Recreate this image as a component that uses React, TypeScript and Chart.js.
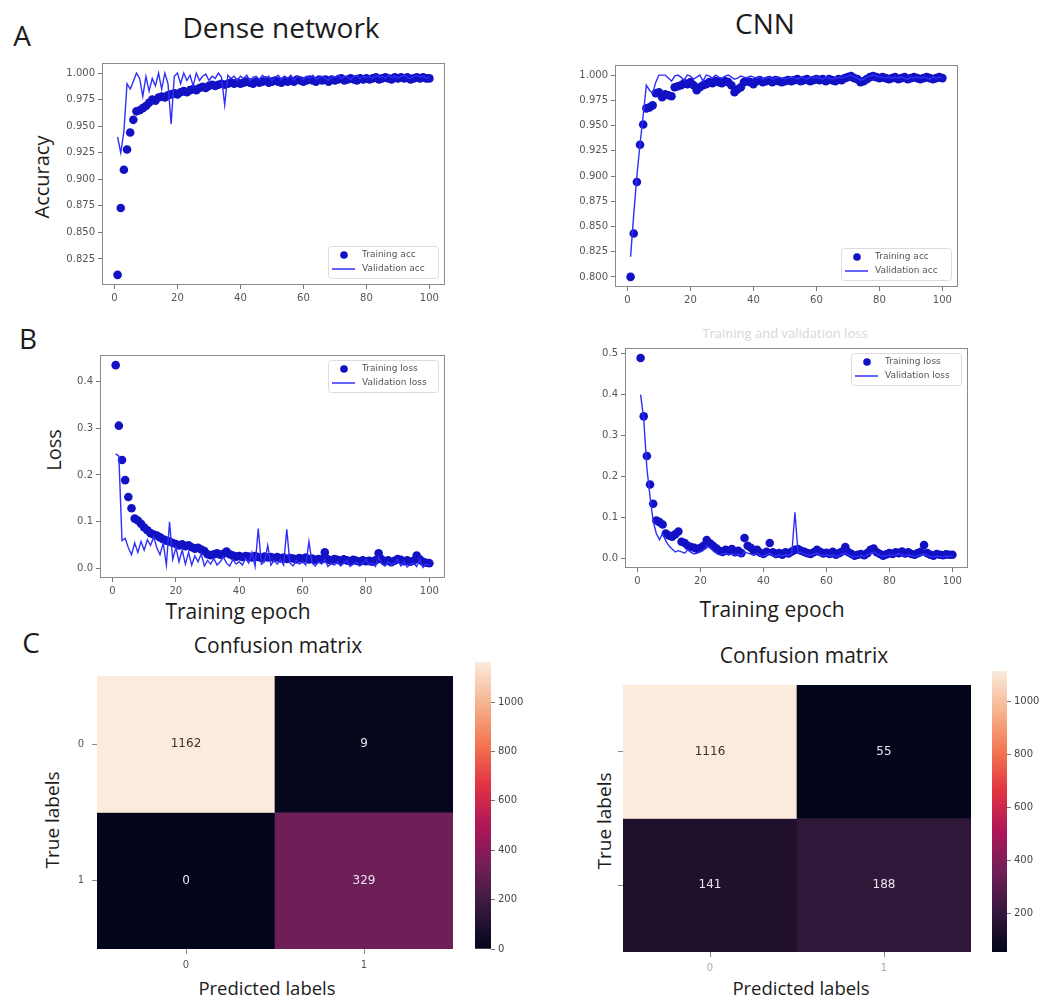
import React, { useEffect, useRef } from 'react';
import { Chart, registerables } from 'chart.js';

Chart.register(...registerables);
Chart.defaults.font.family = '"DejaVu Sans", sans-serif';

// ---------------- data ----------------
const EPOCH_TICKS = [0, 20, 40, 60, 80, 100];
const ACC_TICKS_DENSE = [0.825, 0.85, 0.875, 0.9, 0.925, 0.95, 0.975, 1.0];
const ACC_TICKS_CNN = [0.8, 0.825, 0.85, 0.875, 0.9, 0.925, 0.95, 0.975, 1.0];
const LOSS_TICKS_DENSE = [0, 0.1, 0.2, 0.3, 0.4];
const LOSS_TICKS_CNN = [0, 0.1, 0.2, 0.3, 0.4, 0.5];

const DENSE_TRAIN_ACC = [
  0.810, 0.873, 0.909, 0.928, 0.944, 0.956, 0.964, 0.965, 0.967, 0.969,
  0.972, 0.975, 0.974, 0.977, 0.978, 0.977, 0.979, 0.980, 0.981, 0.980,
  0.982, 0.983, 0.982, 0.984, 0.985, 0.984, 0.986, 0.987, 0.986, 0.988,
  0.989, 0.988, 0.989, 0.990, 0.989, 0.990, 0.991, 0.990, 0.991, 0.990,
  0.991, 0.992, 0.991, 0.990, 0.992, 0.991, 0.992, 0.993, 0.991, 0.992,
  0.993, 0.992, 0.991, 0.993, 0.992, 0.993, 0.992, 0.994, 0.993, 0.992,
  0.993, 0.994, 0.993, 0.992, 0.994, 0.993, 0.994, 0.992, 0.994, 0.993,
  0.994, 0.995, 0.993, 0.994, 0.995, 0.994, 0.993, 0.995, 0.994, 0.995,
  0.994, 0.995, 0.996, 0.994, 0.995, 0.996, 0.995, 0.994, 0.996, 0.995,
  0.996, 0.995, 0.996, 0.994, 0.995, 0.996, 0.995, 0.996, 0.995, 0.995,
];
const DENSE_VAL_ACC = [
  0.940, 0.925, 0.945, 0.990, 0.985, 0.992, 1.000, 0.995, 0.978, 0.997,
  0.983, 0.995, 0.988, 1.000, 0.985, 1.000, 0.990, 0.952, 0.997, 1.000,
  0.990, 1.000, 0.993, 0.998, 0.988, 1.000, 0.993, 0.997, 0.999, 0.993,
  0.997, 0.995, 1.000, 0.996, 0.970, 0.998, 0.995, 0.997, 0.993, 0.997,
  0.995, 0.998, 0.993, 0.996, 0.997, 0.994, 0.998, 0.995, 0.997, 0.993,
  0.996, 0.998, 0.994, 0.997, 0.995, 0.998, 0.993, 0.997, 0.996, 0.994,
  0.997, 0.995, 0.998, 0.994, 0.996, 0.997, 0.995, 0.993, 0.997, 0.996,
  0.998, 0.995, 0.997, 0.996, 0.994, 0.997, 0.998, 0.995, 0.997, 0.996,
  0.997, 0.995, 0.998, 0.996, 0.997, 0.995, 0.998, 0.996, 0.997, 0.995,
  0.997, 0.998, 0.996, 0.995, 0.997, 0.998, 0.996, 0.997, 0.995, 0.996,
];
const CNN_TRAIN_ACC = [
  0.800, 0.843, 0.894, 0.931, 0.951, 0.967, 0.968, 0.970, 0.982, 0.983,
  0.978, 0.981, 0.980, 0.979, 0.988, 0.989, 0.990, 0.992, 0.991, 0.993,
  0.990, 0.985, 0.988, 0.990, 0.991, 0.993, 0.992, 0.994, 0.993, 0.992,
  0.994, 0.993, 0.990, 0.983, 0.986, 0.988, 0.993, 0.994, 0.993, 0.991,
  0.994, 0.995, 0.993, 0.994, 0.995, 0.993, 0.995, 0.994, 0.993, 0.994,
  0.995, 0.994, 0.995, 0.996, 0.994, 0.995, 0.996, 0.994, 0.995, 0.996,
  0.995, 0.996, 0.994, 0.996, 0.995, 0.994, 0.996, 0.995, 0.997, 0.998,
  0.999, 0.997, 0.996, 0.993, 0.994, 0.996, 0.998, 0.999, 0.998, 0.997,
  0.998, 0.997, 0.996, 0.997, 0.998, 0.996, 0.997, 0.998, 0.996, 0.997,
  0.998, 0.997, 0.996, 0.997, 0.998, 0.997, 0.996, 0.997, 0.998, 0.997,
];
const CNN_VAL_ACC = [
  0.820, 0.862, 0.900, 0.932, 0.960, 0.990, 0.985, 0.982, 0.993, 1.000,
  1.000, 1.000, 0.997, 0.994, 0.999, 1.000, 0.998, 0.995, 1.000, 0.999,
  0.996, 0.998, 1.000, 0.994, 1.000, 0.999, 0.997, 1.000, 0.998, 0.997,
  0.999, 1.000, 0.998, 0.996, 0.997, 0.999, 0.998, 0.997, 0.999, 0.998,
  0.997, 0.998, 0.996, 0.997, 0.998, 0.996, 0.997, 0.998, 0.997, 0.996,
  0.997, 0.998, 0.997, 0.996, 0.998, 0.997, 0.996, 0.998, 0.997, 0.998,
  0.997, 0.996, 0.998, 0.997, 0.996, 0.997, 0.998, 0.997, 0.998, 0.999,
  1.000, 0.998, 0.997, 0.995, 0.996, 0.998, 0.999, 1.000, 0.999, 0.998,
  0.998, 0.997, 0.998, 0.997, 0.998, 0.997, 0.998, 0.997, 0.996, 0.998,
  0.997, 0.998, 0.997, 0.998, 0.997, 0.996, 0.998, 0.997, 0.998, 0.997,
];
const DENSE_TRAIN_LOSS = [
  0.434, 0.305, 0.232, 0.189, 0.153, 0.129, 0.107, 0.103, 0.096, 0.088,
  0.082, 0.076, 0.073, 0.071, 0.067, 0.063, 0.060, 0.058, 0.055, 0.053,
  0.050, 0.052, 0.048, 0.050, 0.046, 0.043, 0.045, 0.041, 0.038, 0.031,
  0.029, 0.031, 0.033, 0.030, 0.032, 0.037, 0.031, 0.028, 0.026, 0.027,
  0.025, 0.027, 0.026, 0.024, 0.027, 0.025, 0.023, 0.026, 0.024, 0.025,
  0.023, 0.025, 0.022, 0.024, 0.021, 0.023, 0.022, 0.020, 0.023, 0.021,
  0.024, 0.020, 0.022, 0.019, 0.021, 0.020, 0.035, 0.020, 0.018, 0.021,
  0.019, 0.017, 0.020, 0.018, 0.016, 0.019, 0.017, 0.015, 0.018, 0.016,
  0.017, 0.015, 0.018, 0.033, 0.020, 0.016, 0.018, 0.014, 0.017, 0.021,
  0.019, 0.016, 0.018, 0.015, 0.017, 0.028, 0.020, 0.015, 0.013, 0.012,
];
const DENSE_VAL_LOSS = [
  0.245, 0.240, 0.060, 0.065, 0.045, 0.030, 0.055, 0.035, 0.058, 0.040,
  0.062, 0.050, 0.068, 0.045, 0.030, 0.055, 0.008, 0.100, 0.020, 0.045,
  0.015, 0.040, 0.010, 0.035, 0.008, 0.028, 0.015, 0.032, 0.006, 0.018,
  0.010, 0.022, 0.008, 0.015, 0.025, 0.012, 0.006, 0.020, 0.010, 0.015,
  0.008, 0.022, 0.012, 0.035, 0.005, 0.086, 0.010, 0.015, 0.050, 0.008,
  0.018, 0.010, 0.020, 0.008, 0.084, 0.012, 0.006, 0.018, 0.010, 0.015,
  0.008, 0.058, 0.012, 0.006, 0.015, 0.010, 0.020, 0.005, 0.012, 0.008,
  0.015, 0.006, 0.012, 0.018, 0.005, 0.010, 0.014, 0.006, 0.012, 0.020,
  0.008, 0.012, 0.005, 0.025, 0.010, 0.006, 0.015, 0.008, 0.012, 0.020,
  0.006, 0.015, 0.004, 0.010, 0.012, 0.005, 0.020, 0.003, 0.010, 0.008,
];
const CNN_TRAIN_LOSS = [
  0.490, 0.347, 0.250, 0.180, 0.133, 0.092, 0.088, 0.082, 0.060, 0.055,
  0.052, 0.058, 0.065, 0.040, 0.037, 0.030, 0.027, 0.025, 0.022, 0.025,
  0.030, 0.044, 0.036, 0.030, 0.024, 0.018, 0.015, 0.020, 0.017, 0.022,
  0.014, 0.018, 0.012, 0.049, 0.030, 0.025, 0.016, 0.020, 0.013, 0.010,
  0.015, 0.037, 0.014, 0.010, 0.012, 0.008, 0.014, 0.011, 0.016, 0.020,
  0.022, 0.018, 0.015, 0.012, 0.010, 0.014, 0.020, 0.015, 0.011, 0.013,
  0.010, 0.015, 0.008, 0.012, 0.016, 0.027, 0.014, 0.010, 0.006, 0.008,
  0.010, 0.007, 0.012, 0.020, 0.023, 0.014, 0.010, 0.006, 0.009, 0.012,
  0.010, 0.014, 0.012, 0.016, 0.011, 0.014, 0.010, 0.008, 0.012, 0.015,
  0.032, 0.012, 0.008, 0.006, 0.010, 0.008, 0.007, 0.009, 0.008, 0.008,
];
const CNN_VAL_LOSS = [
  0.400, 0.340, 0.220, 0.150, 0.090, 0.060, 0.045, 0.060, 0.042, 0.030,
  0.022, 0.015, 0.018, 0.015, 0.012, 0.020, 0.014, 0.010, 0.012, 0.015,
  0.020, 0.030, 0.025, 0.018, 0.012, 0.008, 0.010, 0.012, 0.008, 0.010,
  0.008, 0.010, 0.006, 0.015, 0.012, 0.010, 0.008, 0.012, 0.006, 0.005,
  0.008, 0.012, 0.006, 0.004, 0.008, 0.005, 0.008, 0.006, 0.010, 0.112,
  0.012, 0.015, 0.010, 0.008, 0.006, 0.010, 0.012, 0.008, 0.006, 0.008,
  0.005, 0.008, 0.004, 0.006, 0.010, 0.012, 0.008, 0.004, 0.002, 0.004,
  0.006, 0.004, 0.008, 0.012, 0.015, 0.010, 0.006, 0.004, 0.006, 0.008,
  0.006, 0.008, 0.010, 0.008, 0.006, 0.008, 0.005, 0.004, 0.006, 0.008,
  0.010, 0.006, 0.004, 0.003, 0.005, 0.004, 0.003, 0.005, 0.004, 0.006,
];

const CM_LABELS = ['0', '1'];
const CM_DENSE = [[1162, 9], [0, 329]];
const CM_CNN = [[1116, 55], [141, 188]];
const CBAR_TICKS_DENSE = [0, 200, 400, 600, 800, 1000];
const CBAR_TICKS_CNN = [200, 400, 600, 800, 1000];

// rocket colormap anchor colours
const ROCKET: [number, string][] = [
  [0, '#03051a'], [1 / 7, '#35193e'], [2 / 7, '#701f57'], [3 / 7, '#ad1759'],
  [4 / 7, '#e13342'], [5 / 7, '#f37651'], [6 / 7, '#f6b48f'], [1, '#faebdd'],
];

// ---------------- helpers ----------------
const DOT = '#1212c4';
const LINE = '#2f2ff8';

function hex(c: string) {
  return [parseInt(c.slice(1, 3), 16), parseInt(c.slice(3, 5), 16), parseInt(c.slice(5, 7), 16)];
}
function rocket(t: number) {
  t = Math.max(0, Math.min(1, t));
  for (let i = 0; i < ROCKET.length - 1; i++) {
    const [a, ca] = ROCKET[i];
    const [b, cb] = ROCKET[i + 1];
    if (t <= b) {
      const f = (t - a) / (b - a);
      const A = hex(ca), B = hex(cb);
      const m = A.map((v, k) => Math.round(v + (B[k] - v) * f));
      return `rgb(${m[0]},${m[1]},${m[2]})`;
    }
  }
  return ROCKET[ROCKET.length - 1][1];
}

type Rect = { left: number; top: number; right: number; bottom: number };

const framePlugin = {
  id: 'axFrame',
  afterDatasetsDraw(chart: any) {
    const { ctx, chartArea: a } = chart;
    ctx.save();
    ctx.strokeStyle = '#8a8a8a';
    ctx.lineWidth = 1;
    ctx.strokeRect(Math.round(a.left) + 0.5, Math.round(a.top) + 0.5, Math.round(a.right - a.left) - 1, Math.round(a.bottom - a.top) - 1);
    ctx.restore();
  },
};

function makeLegend(corner: 'lower' | 'upper') {
  return {
    id: 'boxLegend',
    afterDraw(chart: any) {
      const { ctx, chartArea: a } = chart;
      const w = 110, h = 32;
      const left = Math.round(a.right - 7 - w);
      const top = Math.round(corner === 'lower' ? a.bottom - 7 - h : a.top + 5);
      const ds = chart.data.datasets;
      const train = ds.find((d: any) => !d.showLine);
      const val = ds.find((d: any) => d.showLine);
      ctx.save();
      ctx.fillStyle = 'rgba(255,255,255,0.9)';
      ctx.strokeStyle = '#dcdcdc';
      ctx.lineWidth = 1;
      ctx.beginPath();
      if ((ctx as any).roundRect) (ctx as any).roundRect(left + 0.5, top + 0.5, w, h, 3);
      else ctx.rect(left + 0.5, top + 0.5, w, h);
      ctx.fill();
      ctx.stroke();
      const r1 = top + 9, r2 = top + 23;
      ctx.fillStyle = DOT;
      ctx.beginPath();
      ctx.arc(left + 16, r1, 3.8, 0, Math.PI * 2);
      ctx.fill();
      ctx.strokeStyle = LINE;
      ctx.lineWidth = 1.5;
      ctx.beginPath();
      ctx.moveTo(left + 4, r2);
      ctx.lineTo(left + 27, r2);
      ctx.stroke();
      ctx.fillStyle = '#555';
      ctx.font = '9px "DejaVu Sans"';
      ctx.textBaseline = 'middle';
      ctx.fillText(train.label, left + 34, r1);
      ctx.fillText(val.label, left + 34, r2);
      ctx.restore();
    },
  };
}

const PADL = 60, PADT = 10, PADR = 10, PADB = 25;

function LinePanel(props: {
  frame: Rect; train: number[]; val: number[]; trainLabel: string; valLabel: string;
  yMin: number; yMax: number; yTicks: number[]; decimals: number; corner: 'lower' | 'upper';
}) {
  const ref = useRef<HTMLCanvasElement>(null);
  const { frame } = props;
  const W = frame.right - frame.left + PADL + PADR;
  const H = frame.bottom - frame.top + PADT + PADB;
  useEffect(() => {
    const chart = new Chart(ref.current!, {
      type: 'scatter',
      data: {
        datasets: [
          {
            label: props.valLabel,
            data: props.val.map((v, i) => ({ x: i + 1, y: v })),
            showLine: true,
            borderColor: LINE,
            borderWidth: 1.4,
            pointRadius: 0,
            order: 0,
          } as any,
          {
            label: props.trainLabel,
            data: props.train.map((v, i) => ({ x: i + 1, y: v })),
            showLine: false,
            backgroundColor: DOT,
            borderColor: DOT,
            borderWidth: 0,
            pointRadius: 4.3,
            order: 1,
          } as any,
        ],
      },
      options: {
        animation: false,
        responsive: false,
        events: [],
        layout: { padding: { left: 0, top: PADT, right: PADR, bottom: 0 } },
        plugins: { legend: { display: false }, tooltip: { enabled: false } },
        scales: {
          x: {
            type: 'linear', min: -3.95, max: 104.95,
            afterBuildTicks: (s: any) => { s.ticks = EPOCH_TICKS.map((v) => ({ value: v })); },
            afterFit: (s: any) => { s.height = PADB; },
            ticks: { color: '#555', font: { size: 10 }, padding: 3, maxRotation: 0, autoSkip: false, callback: (v: any) => String(v) },
            grid: { drawOnChartArea: false, drawTicks: true, tickLength: 4, color: '#777' },
            border: { display: false },
          },
          y: {
            type: 'linear', min: props.yMin, max: props.yMax,
            afterBuildTicks: (s: any) => { s.ticks = props.yTicks.map((v) => ({ value: v })); },
            afterFit: (s: any) => { s.width = PADL; },
            ticks: { color: '#555', font: { size: 10 }, padding: 3, autoSkip: false, callback: (v: any) => Number(v).toFixed(props.decimals) },
            grid: { drawOnChartArea: false, drawTicks: true, tickLength: 4, color: '#777' },
            border: { display: false },
          },
        },
      } as any,
      plugins: [framePlugin, makeLegend(props.corner)],
    });
    return () => chart.destroy();
  }, []);
  return (
    <canvas ref={ref} width={W} height={H}
      style={{ position: 'absolute', left: frame.left - PADL, top: frame.top - PADT, width: W, height: H }} />
  );
}

const HM_PADL = 30, HM_PADB = 25;

function Heatmap(props: { rect: Rect; matrix: number[][]; showRowLabels: boolean; colLabelColor: string }) {
  const ref = useRef<HTMLCanvasElement>(null);
  const { rect, matrix } = props;
  const W = rect.right - rect.left + HM_PADL;
  const H = rect.bottom - rect.top + HM_PADB;
  useEffect(() => {
    const flat = matrix.flat();
    const vmin = Math.min(...flat), vmax = Math.max(...flat);
    const col = (v: number) => rocket((v - vmin) / (vmax - vmin));
    const datasets = matrix.map((row, r) => ({
      label: 'row ' + CM_LABELS[r],
      data: row.map(() => [1 - r, 2 - r]),
      values: row,
      backgroundColor: row.map(col),
      borderWidth: 0,
      grouped: false,
      barPercentage: 1,
      categoryPercentage: 1,
    }));
    const textPlugin = {
      id: 'cellText',
      afterDatasetsDraw(chart: any) {
        const { ctx } = chart;
        ctx.save();
        ctx.font = '12px "DejaVu Sans"';
        ctx.textAlign = 'center';
        ctx.textBaseline = 'middle';
        chart.data.datasets.forEach((ds: any, di: number) => {
          chart.getDatasetMeta(di).data.forEach((bar: any, j: number) => {
            const p = bar.getProps(['x', 'y', 'base'], true);
            const v = ds.values[j];
            const t = (v - vmin) / (vmax - vmin);
            ctx.fillStyle = t > 0.6 ? '#3b3330' : '#e8e4ee';
            ctx.fillText(String(v), p.x, (p.y + p.base) / 2);
          });
        });
        ctx.restore();
      },
    };
    const chart = new Chart(ref.current!, {
      type: 'bar',
      data: { labels: CM_LABELS, datasets: datasets as any },
      options: {
        animation: false,
        responsive: false,
        events: [],
        layout: { padding: 0 },
        plugins: { legend: { display: false }, tooltip: { enabled: false } },
        scales: {
          x: {
            type: 'category', offset: true,
            afterFit: (s: any) => { s.height = HM_PADB; },
            ticks: { color: props.colLabelColor, font: { size: 10 }, padding: 5, maxRotation: 0 },
            grid: { offset: false, drawOnChartArea: false, drawTicks: true, tickLength: 5, color: '#888' },
            border: { display: false },
          },
          y: {
            type: 'linear', min: 0, max: 2,
            afterBuildTicks: (s: any) => { s.ticks = [{ value: 0.5 }, { value: 1.5 }]; },
            afterFit: (s: any) => { s.width = HM_PADL; },
            ticks: {
              color: '#555', font: { size: 10 }, padding: 8,
              callback: (v: any) => (props.showRowLabels ? (v === 1.5 ? CM_LABELS[0] : CM_LABELS[1]) : ''),
            },
            grid: { drawOnChartArea: false, drawTicks: true, tickLength: 5, color: '#888' },
            border: { display: false },
          },
        },
      } as any,
      plugins: [textPlugin],
    });
    return () => chart.destroy();
  }, []);
  return (
    <canvas ref={ref} width={W} height={H}
      style={{ position: 'absolute', left: rect.left - HM_PADL, top: rect.top, width: W, height: H }} />
  );
}

const CB_PADR = 50, CB_PADV = 10;

function Colorbar(props: { rect: Rect; matrix: number[][]; ticks: number[] }) {
  const ref = useRef<HTMLCanvasElement>(null);
  const { rect } = props;
  const W = rect.right - rect.left + CB_PADR;
  const H = rect.bottom - rect.top + CB_PADV * 2;
  useEffect(() => {
    const flat = props.matrix.flat();
    const vmin = Math.min(...flat), vmax = Math.max(...flat);
    const chart = new Chart(ref.current!, {
      type: 'bar',
      data: {
        labels: [''],
        datasets: [{
          label: 'scale',
          data: [[vmin, vmax]],
          borderWidth: 0,
          barPercentage: 1,
          categoryPercentage: 1,
          backgroundColor: (c: any) => {
            const a = c.chart.chartArea;
            if (!a) return '#000';
            const g = c.chart.ctx.createLinearGradient(0, a.bottom, 0, a.top);
            ROCKET.forEach(([t, cc]) => g.addColorStop(t, cc));
            return g;
          },
        }] as any,
      },
      options: {
        animation: false,
        responsive: false,
        events: [],
        layout: { padding: { top: CB_PADV, bottom: CB_PADV, left: 0, right: 0 } },
        plugins: { legend: { display: false }, tooltip: { enabled: false } },
        scales: {
          x: { display: false },
          y: {
            type: 'linear', position: 'right', min: vmin, max: vmax,
            afterBuildTicks: (s: any) => { s.ticks = props.ticks.map((v) => ({ value: v })); },
            afterFit: (s: any) => { s.width = CB_PADR; },
            ticks: { color: '#444', font: { size: 10 }, padding: 3, callback: (v: any) => String(v) },
            grid: { drawOnChartArea: false, drawTicks: true, tickLength: 4, color: '#777' },
            border: { display: false },
          },
        },
      } as any,
    });
    return () => chart.destroy();
  }, []);
  return (
    <canvas ref={ref} width={W} height={H}
      style={{ position: 'absolute', left: rect.left, top: rect.top - CB_PADV, width: W, height: H }} />
  );
}

function Label(p: { text: string; x: number; y: number; size: number; rotate?: boolean; color?: string; family?: string }) {
  return (
    <div style={{
      position: 'absolute', left: p.x, top: p.y,
      transform: `translate(-50%, -50%)${p.rotate ? ' rotate(-90deg)' : ''}`,
      fontSize: p.size, fontFamily: p.family || '"Open Sans", sans-serif',
      color: p.color || '#1c1c1c', whiteSpace: 'nowrap', lineHeight: 1,
    }}>{p.text}</div>
  );
}

export default function App() {
  return (
    <div style={{ position: 'absolute', left: 0, top: 0, width: 1049, height: 1001, background: '#fff', overflow: 'hidden' }}>
      <Label text="A" x={22} y={35} size={28} />
      <Label text="B" x={28} y={338} size={28} />
      <Label text="C" x={31} y={642} size={28} />
      <Label text="Dense network" x={281} y={27} size={28} />
      <Label text="CNN" x={765} y={23} size={28} />
      <Label text="Accuracy" x={42} y={177} size={20} rotate />
      <Label text="Loss" x={54} y={450} size={20} rotate />
      <Label text="Training epoch" x={238} y={611} size={21} />
      <Label text="Training epoch" x={772} y={609} size={21} />
      <Label text="Training and validation loss" x={785} y={333} size={13} color="#d6d6d6" />
      <Label text="Confusion matrix" x={278} y={645} size={21} />
      <Label text="Confusion matrix" x={804} y={655} size={21} />
      <Label text="True labels" x={52} y={820} size={19} rotate />
      <Label text="True labels" x={604} y={821} size={19} rotate />
      <Label text="Predicted labels" x={267} y={988} size={18.5} />
      <Label text="Predicted labels" x={801} y={988} size={18.5} />

      <LinePanel frame={{ left: 102, top: 63, right: 445, bottom: 285 }}
        train={DENSE_TRAIN_ACC} val={DENSE_VAL_ACC} trainLabel="Training acc" valLabel="Validation acc"
        yMin={0.8005} yMax={1.0095} yTicks={ACC_TICKS_DENSE} decimals={3} corner="lower" />
      <LinePanel frame={{ left: 615, top: 65, right: 958, bottom: 287 }}
        train={CNN_TRAIN_ACC} val={CNN_VAL_ACC} trainLabel="Training acc" valLabel="Validation acc"
        yMin={0.79} yMax={1.01} yTicks={ACC_TICKS_CNN} decimals={3} corner="lower" />
      <LinePanel frame={{ left: 100, top: 355, right: 445, bottom: 578 }}
        train={DENSE_TRAIN_LOSS} val={DENSE_VAL_LOSS} trainLabel="Training loss" valLabel="Validation loss"
        yMin={-0.0196} yMax={0.4556} yTicks={LOSS_TICKS_DENSE} decimals={1} corner="upper" />
      <LinePanel frame={{ left: 625, top: 348, right: 968, bottom: 568 }}
        train={CNN_TRAIN_LOSS} val={CNN_VAL_LOSS} trainLabel="Training loss" valLabel="Validation loss"
        yMin={-0.0244} yMax={0.5144} yTicks={LOSS_TICKS_CNN} decimals={1} corner="upper" />

      <Heatmap rect={{ left: 97, top: 662, right: 453, bottom: 949 }} matrix={CM_DENSE} showRowLabels colLabelColor="#555" />
      <Colorbar rect={{ left: 475, top: 662, right: 491, bottom: 949 }} matrix={CM_DENSE} ticks={CBAR_TICKS_DENSE} />
      <Heatmap rect={{ left: 623, top: 671, right: 971, bottom: 952 }} matrix={CM_CNN} showRowLabels={false} colLabelColor="#aaa" />
      <Colorbar rect={{ left: 992, top: 671, right: 1007, bottom: 952 }} matrix={CM_CNN} ticks={CBAR_TICKS_CNN} />
    </div>
  );
}
